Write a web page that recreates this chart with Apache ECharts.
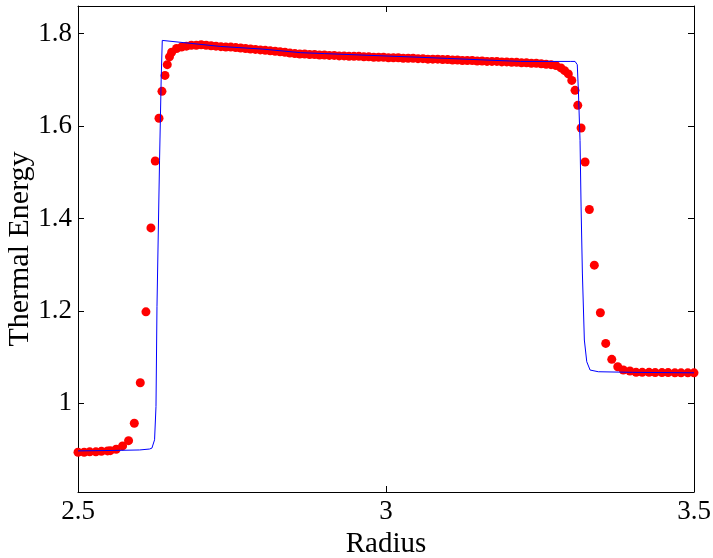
<!DOCTYPE html>
<html>
<head>
<meta charset="utf-8">
<script src="https://cdn.jsdelivr.net/npm/echarts@6/dist/echarts.min.js"></script>
<style>
    html, body { margin: 0; padding: 0; background: #fff; }
    #chart { width: 713px; height: 558px; }
</style>
</head>
<body>
<div id="chart"></div>
<script>
// simulated points (red dots)
const dotRadius = [
    2.500, 2.510, 2.519, 2.529, 2.538, 2.548, 2.5524, 2.562, 2.5724, 2.5821, 2.5914, 2.6011,
    2.6103, 2.6184, 2.6254, 2.6315, 2.6363, 2.6412, 2.6449, 2.6485,
    2.652, 2.660, 2.668, 2.676, 2.684, 2.692, 2.700, 2.708, 2.716, 2.724, 2.732, 2.740,
    2.748, 2.756, 2.764, 2.772, 2.780, 2.788, 2.796, 2.804, 2.812, 2.820, 2.828, 2.836,
    2.844, 2.852, 2.860, 2.868, 2.876, 2.884, 2.892, 2.900, 2.908, 2.916, 2.924, 2.932,
    2.940, 2.948, 2.956, 2.964, 2.972, 2.980, 2.988, 2.996, 3.004, 3.012, 3.020, 3.028,
    3.036, 3.044, 3.052, 3.060, 3.068, 3.076, 3.084, 3.092, 3.100, 3.108, 3.116, 3.124,
    3.132, 3.140, 3.148, 3.156, 3.164, 3.172, 3.180, 3.188, 3.196, 3.204, 3.212, 3.220,
    3.228, 3.236, 3.244, 3.252, 3.260, 3.268, 3.276, 3.284, 3.290, 3.296,
    3.3016, 3.3069, 3.3113, 3.3167, 3.3232, 3.3301, 3.3382, 3.348, 3.3567, 3.3665,
    3.3762, 3.3853, 3.396, 3.406, 3.416, 3.427, 3.437, 3.448, 3.458, 3.469, 3.479, 3.490, 3.500
];
const dotEnergy = [
    0.894, 0.894, 0.895, 0.895, 0.896, 0.897, 0.8975, 0.9005, 0.9077, 0.9191, 0.9568, 1.0445,
    1.198, 1.3797, 1.5245, 1.617, 1.6752, 1.7098, 1.733, 1.750,
    1.760, 1.768, 1.771, 1.773, 1.775, 1.775, 1.776, 1.775, 1.774, 1.773, 1.772, 1.771,
    1.771, 1.770, 1.769, 1.768, 1.767, 1.766, 1.765, 1.764, 1.763, 1.762, 1.761, 1.760,
    1.758, 1.757, 1.756, 1.756, 1.755, 1.755, 1.754, 1.754, 1.753, 1.753, 1.752, 1.752,
    1.751, 1.751, 1.751, 1.750, 1.750, 1.749, 1.749, 1.749, 1.748, 1.748, 1.748, 1.747,
    1.747, 1.747, 1.746, 1.746, 1.745, 1.745, 1.745, 1.744, 1.744, 1.743, 1.743, 1.742,
    1.742, 1.742, 1.741, 1.741, 1.740, 1.740, 1.740, 1.739, 1.739, 1.738, 1.738, 1.737,
    1.737, 1.736, 1.736, 1.735, 1.734, 1.733, 1.731, 1.726, 1.720, 1.713,
    1.699, 1.6774, 1.645, 1.5959, 1.5224, 1.4195, 1.299, 1.1959, 1.1297, 1.0951,
    1.0792, 1.072, 1.0698, 1.067, 1.067, 1.067, 1.0665, 1.0665, 1.0665, 1.066, 1.066, 1.066, 1.066
];

// reference solution (blue line)
const lineRadius = [
    2.500, 2.560, 2.600, 2.616, 2.620, 2.6243, 2.6266, 2.6282, 2.6324, 2.635, 2.6368,
    2.731, 2.800, 2.861, 2.900, 3.000, 3.055, 3.100, 3.200, 3.2185, 3.300,
    3.3069, 3.3105, 3.3123, 3.315, 3.3167, 3.3188, 3.322, 3.3259, 3.3313, 3.3447, 3.400, 3.500
];
const lineEnergy = [
    0.897, 0.898, 0.899, 0.901, 0.903, 0.921, 0.993, 1.209, 1.526, 1.700, 1.7855,
    1.7725, 1.7667, 1.759, 1.757, 1.7518, 1.749, 1.7465, 1.741, 1.740, 1.740,
    1.740, 1.733, 1.677, 1.569, 1.425, 1.282, 1.137, 1.090, 1.072, 1.0683, 1.067, 1.066
];

const xTicks = [2.5, 3, 3.5];
const yTicks = [1, 1.2, 1.4, 1.6, 1.8];

const serif = '"Liberation Serif", "DejaVu Serif", serif';

function pairs(xs, ys) {
    return xs.map((x, i) => [x, ys[i]]);
}

const lineStyleBlack = { color: '#000', width: 1 };

let option = {
    animation: false,
    backgroundColor: '#fff',
    grid: { left: 78, right: 19, top: 6, bottom: 66, outerBoundsMode: 'none', containLabel: false },
    xAxis: [
        {
            type: 'value',
            min: 2.5,
            max: 3.5,
            interval: 0.5,
            position: 'bottom',
            name: 'Radius',
            nameLocation: 'middle',
            nameGap: 38,
            nameMoveOverlap: false,
            nameTextStyle: { fontFamily: serif, fontSize: 29, color: '#000' },
            axisLine: { show: true, lineStyle: lineStyleBlack },
            axisTick: { show: true, inside: true, length: 6, lineStyle: lineStyleBlack },
            axisLabel: {
                fontFamily: serif, fontSize: 27, color: '#000', margin: 6,
                customValues: xTicks
            },
            splitLine: { show: false }
        },
        {
            type: 'value',
            min: 2.5,
            max: 3.5,
            interval: 0.5,
            position: 'top',
            axisLine: { show: true, lineStyle: lineStyleBlack },
            axisTick: { show: true, inside: true, length: 6, lineStyle: lineStyleBlack },
            axisLabel: { show: false },
            splitLine: { show: false }
        }
    ],
    yAxis: [
        {
            type: 'value',
            min: 0.808,
            max: 1.86,
            position: 'left',
            name: 'Thermal Energy',
            nameLocation: 'middle',
            nameGap: 43,
            nameMoveOverlap: false,
            nameTextStyle: { fontFamily: serif, fontSize: 30, color: '#000' },
            axisLine: { show: true, lineStyle: lineStyleBlack },
            axisTick: { show: true, inside: true, length: 6, lineStyle: lineStyleBlack, customValues: yTicks },
            axisLabel: { fontFamily: serif, fontSize: 27, color: '#000', margin: 6, customValues: yTicks },
            splitLine: { show: false }
        },
        {
            type: 'value',
            min: 0.808,
            max: 1.86,
            position: 'right',
            axisLine: { show: true, lineStyle: lineStyleBlack },
            axisTick: { show: true, inside: true, length: 6, lineStyle: lineStyleBlack, customValues: yTicks },
            axisLabel: { show: false },
            splitLine: { show: false }
        }
    ],
    series: [
        {
            name: 'simulation',
            type: 'scatter',
            xAxisIndex: 0,
            yAxisIndex: 0,
            symbol: 'circle',
            symbolSize: 9,
            itemStyle: { color: '#ff0000', opacity: 1 },
            clip: false,
            z: 2,
            data: pairs(dotRadius, dotEnergy)
        },
        {
            name: 'exact',
            type: 'line',
            xAxisIndex: 0,
            yAxisIndex: 0,
            showSymbol: false,
            symbol: 'none',
            lineStyle: { color: '#0000ff', width: 1 },
            z: 3,
            data: pairs(lineRadius, lineEnergy)
        }
    ]
};

let myChart = echarts.init(document.getElementById('chart'));
myChart.setOption(option);
</script>
</body>
</html>
